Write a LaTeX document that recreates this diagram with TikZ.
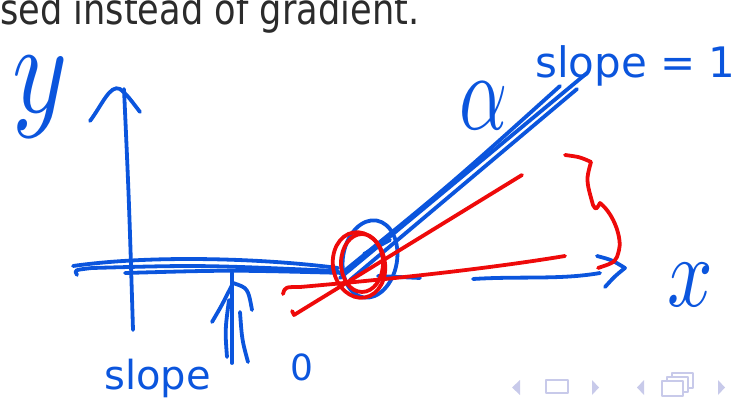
\documentclass[tikz,border=0pt]{standalone}
\usepackage{fontspec}
\setmainfont{DejaVu Sans}
\definecolor{inkblue}{HTML}{0B55DD}
\definecolor{inkred}{HTML}{EE0A0A}
\definecolor{slidetext}{HTML}{2B2B2B}
\definecolor{navgray}{HTML}{C8CAEA}
\tikzset{
  sketch/.style={x=1pt, y=-1pt, line cap=round, line join=round},
  bluepen/.style={draw=inkblue, line width=3.8pt},
  redpen/.style={draw=inkred, line width=3.8pt},
  hand/.style={text=inkblue, inner sep=0pt},
  navicon/.style={fill=navgray, draw=none},
  navframe/.style={draw=navgray, line width=1.6pt},
}

\begin{document}
\begin{tikzpicture}[sketch]
  \useasboundingbox (0,0) rectangle (754,403);

  \node[text=slidetext, inner sep=0pt, anchor=base west, font=\fontsize{40}{44}\selectfont] (title) at (0,25) {\scalebox{0.88}[1.06]{sed instead of gradient.}};

  \node[hand] (ylabel) at (40,97) {\scalebox{10.5}[13]{$y$}};
  \node[hand] (xlabel) at (690,285) {\scalebox{8}[10]{$x$}};
  \node[hand] (alpha) at (484,106) {\scalebox{7.5}[11]{$\alpha$}};
  \node[hand, anchor=base west, font=\fontsize{42}{42}\selectfont] (slopeone) at (535,78) {slope = 1};
  \node[hand, anchor=base west, font=\fontsize{40}{40}\selectfont] (slopezero) at (104,389) {slope};
  \node[hand, font=\fontsize{36}{36}\selectfont] (zero) at (302,367) {0};

  % axes
  \draw[bluepen] (133,330) .. controls (129,200) .. (124,89);
  \draw[bluepen] (90,121) .. controls (102,105) and (110,84) .. (120,89) .. controls (127,95) .. (140,112);
  \draw[bluepen] (73,266) .. controls (150,255) and (260,258) .. (338,268);
  \draw[bluepen] (77,275) .. controls (74,270) .. (92,268) .. controls (200,265) .. (338,271);
  \draw[bluepen] (125,273) .. controls (230,270) .. (345,273);
  \draw[bluepen] (378,276) -- (420,278);
  \draw[bluepen] (473,279) .. controls (520,276) and (560,280) .. (600,273);
  \draw[bluepen] (597,256) .. controls (612,260) .. (625,268) .. controls (615,276) .. (605,287);

  % slope 0 arrow
  \draw[bluepen] (232,273) -- (232,363);
  \draw[bluepen] (212,322) .. controls (222,305) .. (233,283) .. controls (248,288) .. (252,310);
  \draw[bluepen] (248,362) .. controls (242,340) .. (240,312);
  \draw[bluepen] (227,357) .. controls (225,330) .. (229,300);

  % relu, slope 1
  \draw[bluepen] (340,278) -- (587,73);
  \draw[bluepen] (350,280) -- (577,89);
  \draw[bluepen] (343,272) .. controls (450,185) .. (560,86);
  \draw[bluepen] (364,254) -- (390,240);
  \draw[bluepen, rotate around={-10:(370,259)}] (370,259) ellipse [x radius=27, y radius=39];

  % subgradients
  \draw[redpen, rotate around={10:(359,265)}] (359,265) ellipse [x radius=26, y radius=33];
  \draw[redpen] (362,263) ellipse [x radius=21, y radius=29];
  \draw[redpen] (283,294) .. controls (285,287) .. (300,287) .. controls (380,280) and (480,270) .. (565,256);
  \draw[redpen] (292,311) -- (294,315) -- (522,175);
  \draw[redpen] (565,155) .. controls (580,157) .. (591,162) .. controls (586,180) .. (593,205)
    .. controls (596,210) .. (600,203) .. controls (615,215) and (622,240) .. (619,250)
    .. controls (616,262) .. (598,268);

  % navigation symbols
  \fill[navicon] (520,380) -- (512,387.5) -- (520,395) -- cycle;
  \draw[navframe] (546,380) rectangle (568,393);
  \fill[navicon] (592,380) -- (599,387.5) -- (592,395) -- cycle;
  \fill[navicon] (644,380) -- (637,387.5) -- (644,395) -- cycle;
  \draw[navframe, fill=white] (672,373) rectangle (693,388);
  \draw[navframe, fill=white] (667,377) rectangle (688,392);
  \draw[navframe, fill=white] (662,381) rectangle (683,396);
  \fill[navicon] (718,380) -- (725,387.5) -- (718,395) -- cycle;
\end{tikzpicture}
\end{document}
